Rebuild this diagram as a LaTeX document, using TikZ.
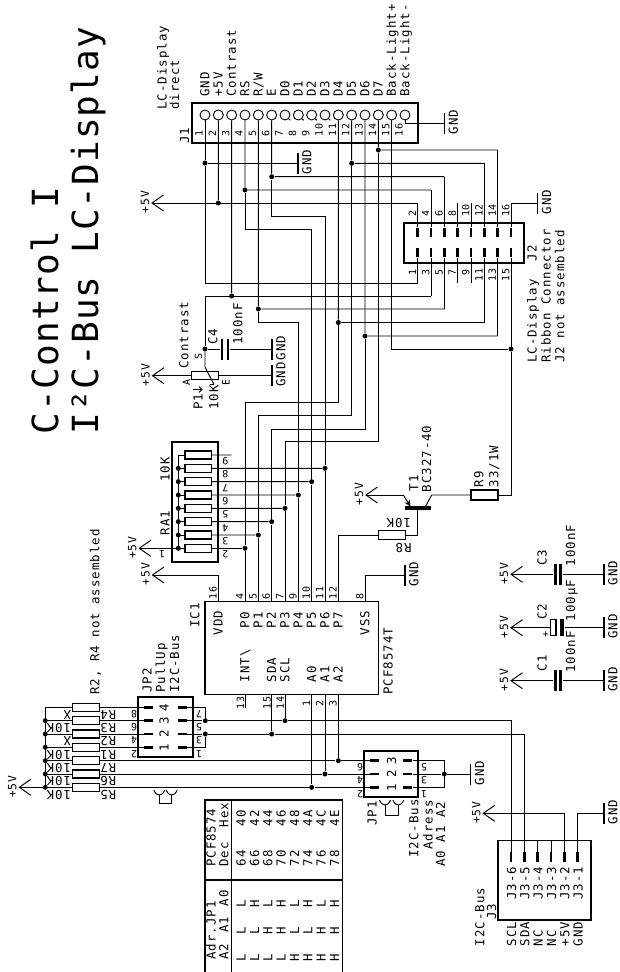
\documentclass[tikz,border=0pt]{standalone}
\usepackage{fontspec}
\setmainfont[LetterSpace=8]{DejaVu Sans Mono}
\newfontfamily\titlefont[LetterSpace=3]{DejaVu Sans Mono}
\usetikzlibrary{arrows.meta}
\newcommand\fN{\fontsize{12.4}{14}\selectfont}
\newcommand\fP{\fontsize{10}{11}\selectfont}
\newcommand\fV{\fontsize{11.4}{13}\selectfont}
\newcommand\fT{\titlefont\fontsize{36}{40}\selectfont}
\newcounter{lbl}
% text reading upward: baseline x, start y
\newcommand\tU[4][\fN]{\stepcounter{lbl}\node[font=#1,rotate=90,anchor=base west,inner sep=0pt] (t\thelbl) at (#2,#3) {#4};}
% text turned upside down: start x, baseline y
\newcommand\tF[4][\fN]{\stepcounter{lbl}\node[font=#1,rotate=180,anchor=base west,inner sep=0pt] (t\thelbl) at (#2,#3) {#4};}
% small upside-down digit, centred
\newcommand\tC[3]{\stepcounter{lbl}\node[font=\fP,rotate=180,inner sep=0pt] (t\thelbl) at (#1,#2) {#3};}
% small upward text, centred
\newcommand\tM[4][\fP]{\stepcounter{lbl}\node[font=#1,rotate=90,inner sep=0pt] (t\thelbl) at (#2,#3) {#4};}
% GND symbol
\newcommand\gnd[3]{\coordinate (#1) at (#2,#3);
  \draw[line width=1.3pt] ([yshift=10.5pt]#1) -- ([yshift=-10.5pt]#1);
  \tU[\fN]{#2+13.3}{#3+11.5}{GND}}
% +5V symbol
\newcommand\vcc[3]{\coordinate (#1) at (#2,#3);
  \draw[wire] ([shift={(11.5pt,8pt)}]#1) -- (#1) -- ([shift={(11.5pt,-8pt)}]#1);
  \tU[\fV]{#2-3}{#3+11}{+5V}}
\newcommand\jdot[3]{\node[jd] (#1) at (#2,#3) {};}
\tikzset{
  wire/.style={line width=0.95pt},
  jd/.style={circle,fill=black,draw=none,minimum size=5pt,inner sep=0pt},
  res/.style={rectangle,draw,fill=white,line width=1.1pt,inner sep=0pt},
  rh/.style={res,minimum width=26.7pt,minimum height=8pt},
  pinc/.style={circle,draw,fill=white,line width=0.9pt,minimum size=10pt,inner sep=0pt},
  barv/.style={rectangle,fill=black,draw=none,inner sep=0pt,minimum width=2.6pt,minimum height=9.5pt},
  barh/.style={rectangle,fill=black,draw=none,inner sep=0pt,minimum width=9pt,minimum height=2.6pt},
  plate/.style={rectangle,fill=black,draw=none,inner sep=0pt,minimum width=2.8pt,minimum height=21pt},
  hbox/.style={rectangle,draw,line width=1.7pt,inner sep=0pt},
}
\begin{document}
\begin{tikzpicture}[x=1pt,y=-1pt,wire]
\useasboundingbox (0,0) rectangle (619,972);
\fill[white] (0,0) rectangle (619,972);

% ---- title
\tU[\fT]{58}{435}{C-Control I}
\tU[\fT]{98}{435}{I²C-Bus LC-Display}

% ---- J1
\node[hbox,minimum width=226.3pt,minimum height=40pt] (J1) at (304.85,123) {};
\tU{166.7}{110}{LC-Display}
\tU{179}{110}{direct}
\tU{189}{144}{J1}
\foreach \k/\s in {1/GND,2/+5V,3/Contrast,4/RS,5/R\slash W,6/E,7/D0,8/D1,9/D2,10/D3,11/D4,12/D5,13/D6,14/D7,15/Back-Light+,16/Back-Light-}{
  \pgfmathsetmacro\xx{205+13.333*(\k-1)}
  \node[pinc] (J1c\k) at (\xx,115) {};
  \coordinate (J1p\k) at (J1c\k.south);
  \tU[\fN]{\xx+4.3}{97}{\s}
  \tU[\fP]{\xx-2.3}{136.5}{\k}
}
\foreach \k in {7,8,9,10}{\draw[wire] (J1c\k.south east) -- ++(1.5,1.5);}

% ---- J2
\node[hbox,minimum width=120pt,minimum height=40pt] (J2) at (464,242.7) {};
\foreach \k/\y in {2/203,4/190,6/176.7,8/203,10/203,12/163.3,14/150,16/203}{
  \pgfmathsetmacro\xx{417.7+(\k-2)/2*13.33}
  \node[barv] (J2p\k) at (\xx,232.5) {};
  \coordinate (J2e\k) at (\xx,\y);
  \draw (J2e\k) -- (J2p\k.north);
  \tU[\fP]{\xx-1.7}{217.3}{\k}
}
\foreach \k/\y in {1/283,3/296,5/309,7/283,9/283,11/322.5,13/336,15/349}{
  \pgfmathsetmacro\xx{417.7+(\k-1)/2*13.33}
  \node[barv] (J2p\k) at (\xx,252.5) {};
  \coordinate (J2e\k) at (\xx,\y);
  \draw (J2e\k) -- (J2p\k.south);
}
\foreach \k in {1,3,5,7,9}{\pgfmathsetmacro\xx{417.7+(\k-1)/2*13.33}\tU[\fP]{\xx-1.7}{276}{\k}}
\foreach \k in {11,13,15}{\pgfmathsetmacro\xx{417.7+(\k-1)/2*13.33}\tU[\fP]{\xx-1.7}{281.7}{\k}}
\tU{536.7}{261.7}{J2}
\tU{536.7}{363.3}{LC-Display}
\tU{550.7}{363.3}{Ribbon Connector}
\tU{564.3}{363.3}{J2 not assembled}

% ---- junctions on J1/J2 wires
\jdot{a1}{205}{163}
\jdot{a2}{218.33}{203}
\jdot{a3}{231.67}{296}
\jdot{a4}{245}{190}
\jdot{a5}{258.33}{309}
\jdot{a6}{271.67}{176.7}
\jdot{a11}{338.33}{322.5}
\jdot{a12}{351.67}{163.3}
\jdot{a13}{365}{336}
\jdot{a14}{378.33}{150}
\jdot{a15}{511}{349}
\jdot{a16}{205}{349}
\gnd{G1}{298}{163}
\gnd{G2}{444.5}{123.3}
\gnd{G3}{537.7}{203}
\vcc{V1}{152}{203}

\coordinate (b3) at (205,296);
\coordinate (b4) at (311.67,229);
\coordinate (b5) at (298.33,322.3);
\coordinate (b6) at (325,216.3);
\coordinate (b11) at (245,402.3);
\coordinate (b12) at (258.33,415.7);
\coordinate (b13) at (271.67,429);
\coordinate (b14) at (285,441.7);

% ---- RA1
\node[hbox,minimum width=46.6pt,minimum height=120pt] (RA1) at (195,501.7) {};
\foreach \k in {2,...,9}{
  \pgfmathsetmacro\yy{548.3-13.33*(\k-2)}
  \node[rh] (RAr\k) at (198.33,\yy) {};
  \coordinate (RAc\k) at (178.3,\yy);
  \draw (RAc\k) -- (RAr\k.west);
  \tC{225.3}{\yy+6}{\k}
}
\draw (RAc9) -- (RAc2);
\foreach \k in {2,...,8}{\node[jd] (RAj\k) at (RAc\k) {};}
\coordinate (RAe9) at (231.7,455);
\draw (RAr9.east) -- (RAe9);
\jdot{RAd2}{245}{548.3}
\jdot{RAd3}{258.33}{535}
\jdot{RAd4}{271.67}{521.66}
\jdot{RAd5}{285}{508.33}
\jdot{RAd6}{298.33}{495}
\jdot{RAd7}{311.67}{481.67}
\jdot{RAd8}{325}{468.34}
\foreach \k in {2,...,8}{\draw (RAr\k.east) -- (RAd\k);}
\vcc{V3}{139.3}{548.3}
\draw (V3) -- (RAc2);
\tC{162}{554.5}{1}
\tU{169.5}{482}{10K}
\tU{169.5}{535.5}{RA1}

% ---- IC1
\node[rectangle,draw,line width=1.2pt,inner sep=0pt,minimum width=173.3pt,minimum height=92.6pt] (IC1) at (291.65,648) {};
\foreach \n/\xx/\lab in {4/245/P0,5/258.33/P1,6/271.67/P2,7/285/P3,9/298.33/P4,10/311.67/P5,11/325/P6,12/338.33/P7}{
  \coordinate (ICp\n) at (\xx,601.7);
  \tU[\fP]{\xx-1.7}{600}{\n}
  \tU{\xx+4.3}{628.5}{\lab}
}
\coordinate (ICp16) at (218.33,601.7);
\coordinate (ICp8) at (365,601.7);
\tU[\fP]{216.7}{600}{16}
\tU[\fP]{363.3}{600}{8}
\tU{222.7}{635.5}{VDD}
\tU{369.3}{635.5}{VSS}
\tU{199.3}{628}{IC1}
\tU{392.7}{695}{PCF8574T}
\tU{249.3}{682.5}{INT\textbackslash}
\tU{276}{682.5}{SDA}
\tU{289.3}{682.5}{SCL}
\tU{316}{682.5}{A0}
\tU{329.3}{682.5}{A1}
\tU{342.7}{682.5}{A2}
\foreach \n/\xx in {13/245,15/271.67,14/285,1/311.67,2/325,3/338.33}{
  \coordinate (ICb\n) at (\xx,694.3);
}
\coordinate (ICs13) at (245,707.7);
\draw (ICb13) -- (ICs13);
\foreach \n/\xx in {13/244,15/270.5,14/283.8}{\tU[\fP]{\xx}{710}{\n}}
\foreach \n/\xx in {1/310,2/323.4,3/336.7}{\tU[\fP]{\xx}{707}{\n}}

% ---- wires J1 -> J2 / IC
\draw (J1p1) -- (a1) -- (G1);
\draw (a1) |- (J2e1);
\draw (V1) -- (J2e2);
\draw (J1p2) -- (a2);
\draw (J1p3) -- (a3);
\draw (b3) -- (J2e3);
\draw (b3) -- (a16);
\draw (J1p4) -- (a4) -- (J2e4);
\draw (a4) |- (b4) -- (RAd7) -- (ICp10);
\draw (J1p5) -- (a5) -- (J2e5);
\draw (a5) |- (b5) -- (RAd6) -- (ICp9);
\draw (J1p6) -- (a6) -- (J2e6);
\draw (a6) |- (b6) -- (RAd8) -- (ICp11);
\draw (J1p11) -- (a11) -- (J2e11);
\draw (a11) |- (b11) -- (RAd2) -- (ICp4);
\draw (J1p12) -- (a12) -- (J2e12);
\draw (a12) |- (b12) -- (RAd3) -- (ICp5);
\draw (J1p13) -- (a13) -- (J2e13);
\draw (a13) |- (b13) -- (RAd4) -- (ICp6);
\draw (J1p14) -- (a14) -- (J2e14);
\draw (a14) |- (b14) -- (RAd5) -- (ICp7);
\draw (J1p15) |- (a15);
\draw (J1p16) |- (G2);
\draw (J2e16) -- (G3);
\draw (J2e15) -- (a15);

% ---- C4, P1
\node[plate] (C4a) at (222,349) {};
\node[plate] (C4b) at (228,349) {};
\gnd{G4}{272}{349}
\draw (a16) -- (C4a.west);
\draw (C4b.east) -- (G4);
\tU{217.3}{345}{C4}
\tU{242.3}{345}{100nF}
\tU{188.3}{369}{Contrast}
\tM[\fP]{198.5}{356}{S}
\node[rh] (P1) at (205,375.7) {};
\vcc{V2}{152.5}{375.7}
\gnd{G5}{272}{375.7}
\draw (V2) -- (P1.west);
\draw (P1.east) -- (G5);
\tM[\fP]{186.5}{382}{A}
\tM[\fP]{226}{382}{E}
\coordinate (w1) at (205,367);
\coordinate (w2) at (214,384.5);
\draw (a16) -- (w1) -- (w2);
\draw (w2) -- ++(-4,0);
\draw[-{Straight Barb[length=3pt,width=6pt]}] (193,389.5) -- (202.7,389.5);
\tU{202.7}{410}{P1}
\tU{218.3}{410}{10K}

% ---- T1, R8, R9
\node[rectangle,res,minimum width=26.7pt,minimum height=8.4pt] (R8) at (391.7,535) {};
\node[rectangle,res,minimum width=27pt,minimum height=10pt] (R9) at (484.5,495) {};
\vcc{V4}{366}{495}
\coordinate (Te) at (403.3,495);
\coordinate (Te2) at (410.5,506.5);
\coordinate (Tc) at (431.7,495);
\coordinate (Tc2) at (425.5,506.5);
\coordinate (Tb) at (417.7,507.7);
\coordinate (Tb2) at (417.7,535);
\coordinate (R8w) at (338.33,535);
\coordinate (R9e) at (511,495);
\draw[line width=3.6pt] (405,507.7) -- (431,507.7);
\draw (V4) -- (Te);
\draw[-{Stealth[length=6.5pt,width=6pt]}] (Te) -- (Te2);
\draw (R9.west) -- (Tc) -- (Tc2);
\draw (Tb) -- (Tb2) -- (R8.east);
\draw (R8.west) -- (R8w) -- (ICp12);
\draw (a15) -- (R9e) -- (R9.east);
\tU{418.3}{491.7}{T1}
\tU{431}{492.7}{BC327-40}
\tU{483.3}{487.7}{R9}
\tU{498.3}{487.7}{33/1W}
\tF{411.5}{518}{10K}
\tF{412}{543.5}{R8}

% ---- VCC/GND at IC
\vcc{V5}{152.5}{575}
\coordinate (V5c) at (218.33,575);
\draw (V5) -- (V5c) -- (ICp16);
\gnd{G6}{405}{575}
\coordinate (G6c) at (365,575);
\draw (ICp8) -- (G6c) -- (G6);

% ---- C3 C2 C1
\vcc{V6}{511}{574.3}
\gnd{G7}{604}{574.3}
\node[plate] (C3a) at (555.3,574.3) {};
\node[plate] (C3b) at (560.7,574.3) {};
\draw (V6) -- (C3a.west);
\draw (C3b.east) -- (G7);
\tU{546.7}{566}{C3}
\tU{575}{566.7}{100nF}
\vcc{V7}{511}{627.7}
\gnd{G8}{604}{627.7}
\node[res,minimum width=5.3pt,minimum height=16pt] (C2a) at (553.3,627.7) {};
\node[rectangle,fill=black,inner sep=0pt,minimum width=4.4pt,minimum height=16.5pt] (C2b) at (562.2,627.7) {};
\draw (V7) -- (C2a.west);
\draw (C2b.east) -- (G8);
\tM[\fP]{546}{634}{+}
\tU{546.7}{620}{C2}
\tU{575}{621.7}{100µF}
\vcc{V8}{511}{680.7}
\gnd{G9}{604}{680.7}
\node[plate] (C1a) at (555.3,680.7) {};
\node[plate] (C1b) at (560.7,680.7) {};
\draw (V8) -- (C1a.west);
\draw (C1b.east) -- (G9);
\tU{546.7}{671.7}{C1}
\tU{575}{673}{100nF}

% ---- pull-up resistors
\foreach \n/\r/\yy/\vv in {R4/1/707.3/X,R3/2/720.7/10K,R2/3/734/X,R1/4/747.3/10K,R7/5/760.7/10K,R6/6/774/10K,R5/7/787.3/10K}{
  \node[rh] (\n) at (86,\yy) {};
  \coordinate (L\r) at (45.3,\yy);
  \draw (L\r) -- (\n.west);
  \tF{116.7}{\yy+2.8}{\n}
  \tF{71.5}{\yy+2.8}{\vv}
}
\draw (L1) -- (L7);
\foreach \r in {2,...,7}{\node[jd] (Lj\r) at (L\r) {};}
\vcc{V9}{19.3}{787.3}
\draw (V9) -- (L7);
\tU{99.3}{695}{R2, R4 not assembled}

% ---- JP2
\node[hbox,minimum width=54.4pt,minimum height=60pt] (JP2) at (165.5,727.3) {};
\foreach \t/\yy/\pl/\pr in {4/707.3/8/7,3/720.7/6/5,2/734/4/3,1/747.3/2/1}{
  \node[barh] (P2l\t) at (148.7,\yy) {};
  \node[barh] (P2r\t) at (182.2,\yy) {};
  \tM[\fN]{164}{\yy}{\t}
  \tC{134}{\yy+6.5}{\pl}
  \tC{199}{\yy+6.5}{\pr}
}
\draw (R4.east) -- (P2l4.west);
\draw (R3.east) -- (P2l3.west);
\draw (R2.east) -- (P2l2.west);
\draw (R1.east) -- (P2l1.west);
\jdot{s1}{205.3}{720.7}
\jdot{s2}{205.3}{734}
\jdot{s3}{285}{720.7}
\jdot{s4}{271.67}{734}
\coordinate (P2e4) at (205.3,707.3);
\coordinate (P2e1) at (205.3,747.3);
\draw (P2r4.east) -- (P2e4) -- (s1);
\draw (P2r1.east) -- (P2e1) -- (s2);
\draw (P2r3.east) -- (s1) -- (s3);
\draw (P2r2.east) -- (s2) -- (s4);
\draw (ICb14) -- (s3);
\draw (ICb15) -- (s4);
\tU{151.7}{693.3}{JP2}
\tU{165}{693.3}{PullUp}
\tU{179}{693.3}{I2C-Bus}

% ---- jumper marks
\draw (153.8,790) .. controls (155.3,794) and (157.8,795) .. (159.3,795) .. controls (160.8,795) and (163.3,794) .. (164.8,790);
\draw (166.2,790) .. controls (167.7,794) and (170.2,795) .. (171.7,795) .. controls (173.2,795) and (175.7,794) .. (177.2,790);
\draw (159.3,795) -- (159.3,803) -- (171.7,803) -- (171.7,795);
\draw (379.5,800) .. controls (381,804) and (383.5,805) .. (385,805) .. controls (386.5,805) and (389,804) .. (390.5,800);
\draw (392.8,800) .. controls (394.3,804) and (396.8,805) .. (398.3,805) .. controls (399.8,805) and (402.3,804) .. (403.8,800);
\draw (385,805) -- (385,815) -- (398.3,815) -- (398.3,805);

% ---- JP1
\node[hbox,minimum width=54pt,minimum height=46.6pt] (JP1) at (391.3,774) {};
\foreach \t/\yy/\pl/\pr in {3/760.7/6/5,2/774/4/3,1/787.3/2/1}{
  \node[barh] (P1l\t) at (374.8,\yy) {};
  \node[barh] (P1r\t) at (407.7,\yy) {};
  \tM[\fN]{391.5}{\yy}{\t}
  \tC{360}{\yy+6.5}{\pl}
  \tC{424}{\yy+6.5}{\pr}
}
\jdot{d1}{311.67}{787.3}
\jdot{d2}{325}{774}
\jdot{d3}{338.33}{760.7}
\draw (R5.east) -- (d1) -- (P1l1.west);
\draw (R6.east) -- (d2) -- (P1l2.west);
\draw (R7.east) -- (d3) -- (P1l3.west);
\draw (ICb1) -- (d1);
\draw (ICb2) -- (d2);
\draw (ICb3) -- (d3);
\jdot{e2}{444.3}{774}
\coordinate (e3) at (444.3,760.7);
\coordinate (e1) at (444.3,787.3);
\draw (P1r3.east) -- (e3) -- (e1) -- (P1r1.east);
\gnd{G10}{470.7}{774}
\draw (P1r2.east) -- (e2) -- (G10);
\tU{376.7}{826}{JP1}
\tU{418.3}{858}{I2C-Bus}
\tU{432.7}{850}{Adress}
\tU{445}{867}{A0 A1 A2}

% ---- J3
\node[hbox,minimum width=93.3pt,minimum height=79.7pt] (J3) at (544.35,880.2) {};
\foreach \k/\xx/\lab in {6/511/SCL,5/524.3/SDA,4/537.7/NC,3/551/NC,2/564.3/+5V,1/577.7/GND}{
  \node[barv] (J3p\k) at (\xx,857) {};
  \tU{\xx+5}{900}{J3-\k}
  \tU{\xx+5}{946.7}{\lab}
}
\foreach \k/\xx in {4/537.7,3/551}{\coordinate (J3s\k) at (\xx,840.3); \draw (J3s\k) -- (J3p\k.north);}
\coordinate (J3u6) at (511,720.7);
\coordinate (J3u5) at (524.3,734);
\draw (s3) -- (J3u6) -- (J3p6.north);
\draw (s4) -- (J3u5) -- (J3p5.north);
\vcc{V10}{483.3}{813.3}
\gnd{G11}{604}{813.3}
\coordinate (J3e2) at (564.3,813.3);
\coordinate (J3e1) at (577.7,813.3);
\draw (V10) -- (J3e2) -- (J3p2.north);
\draw (G11) -- (J3e1) -- (J3p1.north);
\tU{484.3}{946.7}{I2C-Bus}
\tU{496}{920}{J3}

% ---- table
\draw[line width=1.5pt] (205,972) -- (205,800) -- (342.3,800) -- (342.3,972);
\draw[line width=1.5pt] (231.7,800) -- (231.7,972);
\draw[line width=1.5pt] (205,880) -- (342.3,880);
\tU{215.7}{867.3}{PCF8574}
\tU{228.3}{867.3}{Dec}
\tU{228.3}{827.5}{Hex}
\tU{215.7}{960}{Adr.JP1}
\tU{228.3}{960}{A2}
\tU{228.3}{933}{A1}
\tU{228.3}{906.7}{A0}
\foreach \i/\d/\h/\aa/\ab/\ac in {0/64/40/L/L/L,1/66/42/L/L/H,2/68/44/L/H/L,3/70/46/L/H/H,4/72/48/H/L/L,5/74/4A/H/L/H,6/76/4C/H/H/L,7/78/4E/H/H/H}{
  \pgfmathsetmacro\xx{245.7+13.33*\i}
  \tU{\xx}{866.7}{\d}
  \tU{\xx}{826.7}{\h}
  \tU{\xx}{961.7}{\aa}
  \tU{\xx}{935}{\ab}
  \tU{\xx}{908}{\ac}
}
\end{tikzpicture}
\end{document}
